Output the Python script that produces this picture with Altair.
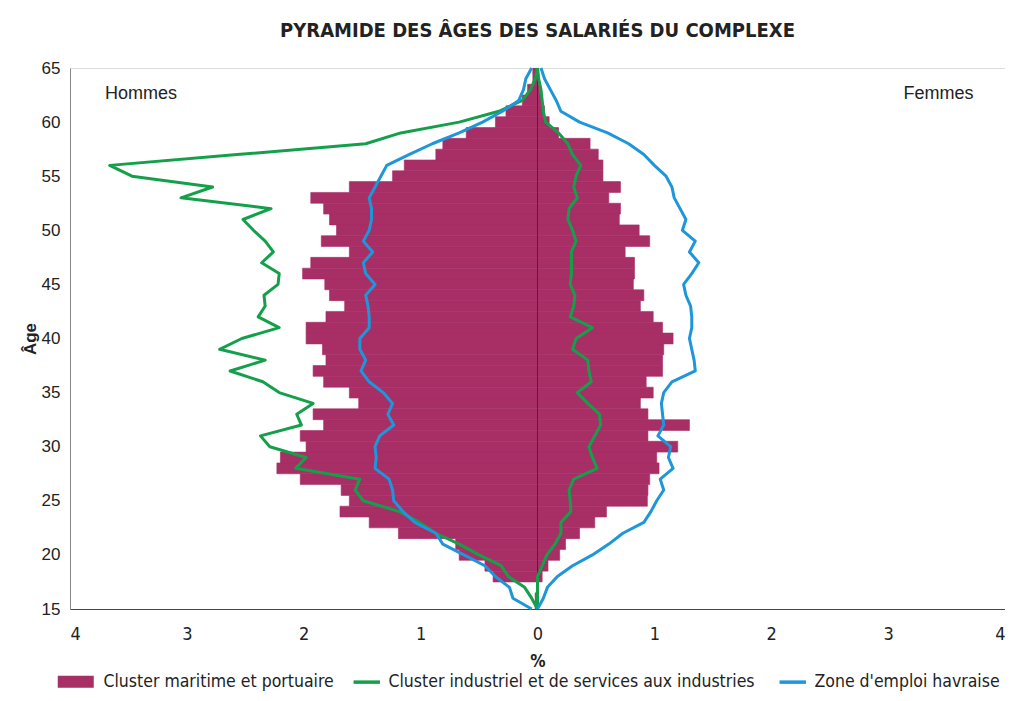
import altair as alt
import pandas as pd

ages = list(range(15, 66))

# Cluster maritime et portuaire (bars), % by age
bar_hommes = [-0.02, -0.02, 0.0, -0.38, -0.45, -0.67, -0.70, -1.19, -1.44, -1.69,
              -1.61, -1.68, -2.03, -2.23, -2.20, -1.98, -2.03, -1.83, -1.92, -1.53,
              -1.61, -1.83, -1.92, -1.81, -1.84, -1.98, -1.98, -1.81, -1.65, -1.78,
              -1.82, -2.01, -1.94, -1.61, -1.85, -1.72, -1.78, -1.83, -1.94, -1.61,
              -1.24, -1.14, -0.87, -0.81, -0.61, -0.36, -0.27, -0.13, -0.085, -0.04,
              -0.04]
bar_femmes = [0.0, 0.0, 0.0, 0.04, 0.09, 0.19, 0.24, 0.36, 0.49, 0.59,
              0.94, 0.945, 0.96, 1.04, 1.02, 1.20, 0.945, 1.30, 0.945, 0.88,
              0.99, 0.93, 1.07, 1.07, 1.08, 1.16, 1.07, 0.99, 0.88, 0.91,
              0.82, 0.83, 0.83, 0.75, 0.96, 0.87, 0.70, 0.71, 0.61, 0.71,
              0.56, 0.56, 0.52, 0.45, 0.18, 0.10, 0.06, 0.04, 0.02, 0.01,
              0.01]

# Cluster industriel et de services aux industries (green line)
ind_hommes = [0.0, -0.05, -0.11, -0.25, -0.31, -0.50, -0.67, -0.87, -1.01, -1.18,
              -1.49, -1.56, -1.52, -2.07, -1.98, -2.29, -2.37, -2.02, -2.06, -1.92,
              -2.21, -2.35, -2.63, -2.33, -2.72, -2.53, -2.21, -2.39, -2.33, -2.34,
              -2.22, -2.21, -2.36, -2.26, -2.33, -2.43, -2.52, -2.28, -3.05, -2.78,
              -3.47, -3.66, -2.57, -1.47, -1.17, -0.67, -0.33, -0.13, -0.06, -0.02,
              0.0]
ind_femmes = [0.0, 0.0, 0.0, 0.0, 0.04, 0.08, 0.15, 0.20, 0.20, 0.285,
              0.28, 0.27, 0.31, 0.51, 0.47, 0.44, 0.49, 0.54, 0.53, 0.43,
              0.34, 0.46, 0.44, 0.43, 0.30, 0.33, 0.47, 0.28, 0.31, 0.32,
              0.28, 0.29, 0.29, 0.29, 0.33, 0.30, 0.26, 0.27, 0.34, 0.31,
              0.33, 0.37, 0.30, 0.26, 0.18, 0.07, 0.05, 0.04, 0.03, 0.01,
              0.0]

# Zone d'emploi havraise (blue line)
zone_hommes = [-0.05, -0.21, -0.24, -0.36, -0.45, -0.63, -0.81, -0.87, -1.05, -1.15,
               -1.23, -1.24, -1.27, -1.39, -1.38, -1.39, -1.35, -1.23, -1.28, -1.24,
               -1.32, -1.44, -1.51, -1.47, -1.52, -1.52, -1.44, -1.44, -1.45, -1.47,
               -1.39, -1.47, -1.49, -1.41, -1.49, -1.44, -1.42, -1.42, -1.44, -1.39,
               -1.34, -1.29, -1.10, -0.90, -0.67, -0.47, -0.30, -0.16, -0.12, -0.10,
               -0.05]
zone_femmes = [0.0, 0.05, 0.085, 0.17, 0.30, 0.47, 0.61, 0.73, 0.91, 0.97,
               1.02, 1.08, 1.05, 1.16, 1.12, 1.14, 1.03, 1.08, 1.07, 1.06,
               1.08, 1.15, 1.35, 1.34, 1.32, 1.30, 1.32, 1.32, 1.31, 1.27,
               1.25, 1.32, 1.38, 1.30, 1.35, 1.24, 1.27, 1.22, 1.17, 1.15,
               1.10, 1.00, 0.91, 0.78, 0.60, 0.36, 0.20, 0.16, 0.11, 0.06,
               0.03]

S1 = "Cluster maritime et portuaire"
S2 = "Cluster industriel et de services aux industries"
S3 = "Zone d'emploi havraise"
PINK, GREEN, BLUE = "#A82E66", "#14A04B", "#1E96DA"

COND = "'Liberation Sans Narrow', 'Arial Narrow', 'DejaVu Sans Condensed', 'Roboto Condensed', sans-serif"
REG = "'Liberation Sans', Arial, sans-serif"

n = len(ages)
bars = pd.DataFrame({
    "age": ages * 2,
    "side": ["H"] * n + ["F"] * n,
    "value": bar_hommes + bar_femmes,
    "series": [S1] * (2 * n),
})
bars["base"] = 0.0
bars["y0"] = bars["age"] - 0.5
bars["y1"] = bars["age"] + 0.5

rows = []
for series, left, right in [(S2, ind_hommes, ind_femmes), (S3, zone_hommes, zone_femmes)]:
    for a, v in zip(ages, left):
        rows.append({"age": a, "value": v, "side": "H", "series": series})
    for a, v in zip(ages, right):
        rows.append({"age": a, "value": v, "side": "F", "series": series})
lines = pd.DataFrame(rows)

xscale = alt.Scale(domain=[-4, 4], nice=False, zero=False)
yscale = alt.Scale(domain=[15, 65], nice=False, zero=False)

xaxis = alt.Axis(values=[-4, -3, -2, -1, 0, 1, 2, 3, 4], labelExpr="abs(datum.value)",
                 title="%", ticks=False, grid=False, labelFont=COND, labelFontSize=18,
                 labelColor="#222", labelPadding=16, titleFont=COND, titleFontSize=17,
                 titleFontWeight="bold", titleColor="#222", titlePadding=10,
                 domainColor="#444")
yaxis = alt.Axis(values=list(range(15, 70, 5)), title="Âge", ticks=False, grid=False,
                 labelFont=REG, labelFontSize=17, labelColor="#222", labelPadding=10,
                 titleFont=REG, titleFontSize=17, titleFontWeight="bold", titleColor="#222",
                 titlePadding=2, domainColor="#888")

bar_layer = alt.Chart(bars).mark_bar(clip=True, stroke=PINK, strokeWidth=0.6).encode(
    x=alt.X("value:Q", scale=xscale, axis=xaxis),
    x2="base:Q",
    y=alt.Y("y0:Q", scale=yscale, axis=yaxis),
    y2="y1:Q",
    fill=alt.Fill("series:N", scale=alt.Scale(domain=[S1], range=[PINK]),
                  legend=alt.Legend(orient="none", legendX=-3, legendY=605, title=None,
                                    symbolType="M-3,-1H3V1H-3Z", symbolSize=144,
                                    symbolStrokeWidth=0, symbolOpacity=1,
                                    labelFont=COND, labelFontSize=17.5, labelLimit=0,
                                    labelColor="#222", labelOffset=19)),
)

zero = pd.DataFrame({"x": [0], "y": [15], "y2": [65]})
zero_layer = alt.Chart(zero).mark_rule(color="#333", strokeWidth=1).encode(
    x="x:Q", y="y:Q", y2="y2:Q")

line_layer = alt.Chart(lines).mark_line(strokeWidth=3, strokeJoin="round").encode(
    x="value:Q",
    y="age:Q",
    detail="side:N",
    order="age:Q",
    stroke=alt.Stroke("series:N", scale=alt.Scale(domain=[S2, S3], range=[GREEN, BLUE]),
                      legend=alt.Legend(orient="none", legendX=288, legendY=605, title=None,
                                        direction="horizontal", symbolType="M-2.2,0H2.2",
                                        symbolSize=144, symbolStrokeWidth=3.5,
                                        labelFont=COND, labelFontSize=17.5, labelLimit=0,
                                        labelColor="#222", labelOffset=13, columnPadding=17)),
)

labels = pd.DataFrame({"x": [-3.70, 3.73], "y": [62.6, 62.6], "t": ["Hommes", "Femmes"]})
lab_h = alt.Chart(labels.iloc[[0]]).mark_text(align="left", baseline="middle", font=REG,
                                             fontSize=18, color="#222").encode(
    x="x:Q", y="y:Q", text="t:N")
lab_f = alt.Chart(labels.iloc[[1]]).mark_text(align="right", baseline="middle", font=REG,
                                             fontSize=18, color="#222").encode(
    x="x:Q", y="y:Q", text="t:N")

chart = alt.layer(bar_layer, zero_layer, line_layer, lab_h, lab_f).resolve_scale(
    fill="independent", stroke="independent"
).properties(
    width=935, height=541,
    autosize=alt.AutoSizeParams(type="none"),
    padding={"left": 62, "top": 60, "right": 0, "bottom": 84},
    title=alt.Title("PYRAMIDE DES ÂGES DES SALARIÉS DU COMPLEXE", font=COND, fontSize=20,
                    fontWeight="bold", color="#222", anchor="middle", offset=18),
).configure_view(stroke="#444", strokeWidth=1).configure(background="white")

chart.save("out.html", embed_options={"renderer": "svg", "actions": False})
